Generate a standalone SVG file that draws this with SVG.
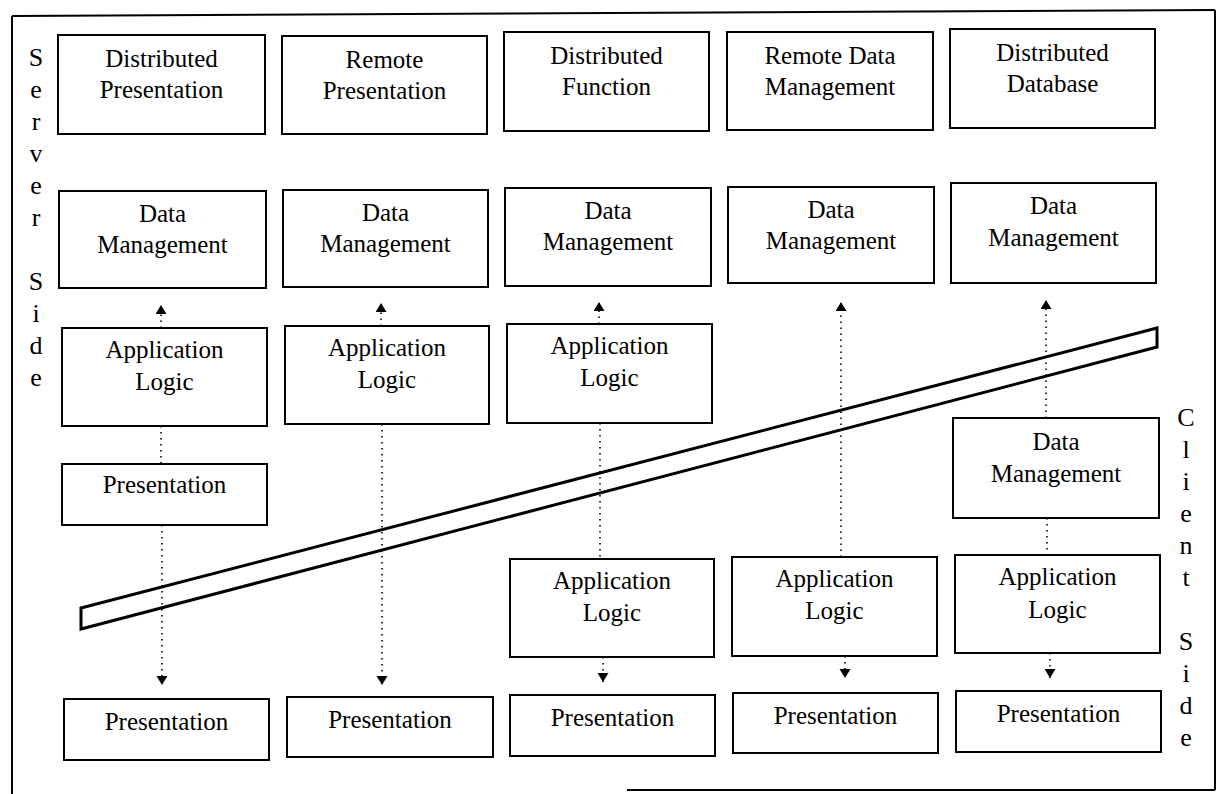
<svg xmlns="http://www.w3.org/2000/svg" width="1218" height="794" viewBox="0 0 1218 794">
<style>
  .box { fill: #fff; stroke: #000; stroke-width: 2; }
  .t { font-family: "Liberation Serif", "Times New Roman", serif; font-size: 25px; fill: #000; text-anchor: middle; }
  .side { font-family: "Liberation Serif", "Times New Roman", serif; font-size: 26px; fill: #000; text-anchor: middle; }
  .dot { fill: none; stroke: #000; stroke-width: 1.6; stroke-dasharray: 1.6 4.4; }
  .frame { fill: none; stroke: #000; stroke-width: 2; }
  .band { fill: none; stroke: #000; stroke-width: 3; stroke-linejoin: miter; }
</style>
<defs>
  <marker id="ah" markerUnits="userSpaceOnUse" markerWidth="10" markerHeight="12" refX="9" refY="5.5" orient="auto">
    <path d="M0,0 L9,5.5 L0,11 z" fill="#000"/>
  </marker>
</defs>
<rect width="1218" height="794" fill="#fff"/>

<g id="frame">
  <line class="frame" x1="12" y1="16" x2="12" y2="794"/>
  <line class="frame" x1="12" y1="16" x2="1215" y2="10"/>
  <line class="frame" x1="1215" y1="10" x2="1215" y2="790"/>
  <line class="frame" x1="627" y1="790" x2="1215" y2="790"/>
</g>

<g id="server-side-label">
  <text class="side" x="36" y="66">S</text>
  <text class="side" x="36" y="98">e</text>
  <text class="side" x="36" y="130">r</text>
  <text class="side" x="36" y="162">v</text>
  <text class="side" x="36" y="194">e</text>
  <text class="side" x="36" y="226">r</text>
  <text class="side" x="36" y="290">S</text>
  <text class="side" x="36" y="322">i</text>
  <text class="side" x="36" y="354">d</text>
  <text class="side" x="36" y="386">e</text>
</g>

<g id="client-side-label">
  <text class="side" x="1186" y="426">C</text>
  <text class="side" x="1186" y="458">l</text>
  <text class="side" x="1186" y="490">i</text>
  <text class="side" x="1186" y="522">e</text>
  <text class="side" x="1186" y="554">n</text>
  <text class="side" x="1186" y="586">t</text>
  <text class="side" x="1186" y="650">S</text>
  <text class="side" x="1186" y="682">i</text>
  <text class="side" x="1186" y="714">d</text>
  <text class="side" x="1186" y="746">e</text>
</g>

<g id="connectors">
  <line class="dot" x1="161" y1="328" x2="161" y2="305" marker-end="url(#ah)"/>
  <line class="dot" x1="161" y1="426" x2="161" y2="464"/>
  <line class="dot" x1="162" y1="525" x2="162" y2="685" marker-end="url(#ah)"/>
  <line class="dot" x1="381" y1="326" x2="381" y2="303" marker-end="url(#ah)"/>
  <line class="dot" x1="382" y1="424" x2="382" y2="685" marker-end="url(#ah)"/>
  <line class="dot" x1="599" y1="324" x2="599" y2="302" marker-end="url(#ah)"/>
  <line class="dot" x1="600" y1="423" x2="600" y2="559"/>
  <line class="dot" x1="603" y1="657" x2="603" y2="682" marker-end="url(#ah)"/>
  <line class="dot" x1="841" y1="557" x2="841" y2="302" marker-end="url(#ah)"/>
  <line class="dot" x1="845" y1="656" x2="845" y2="678" marker-end="url(#ah)"/>
  <line class="dot" x1="1046" y1="418" x2="1046" y2="300" marker-end="url(#ah)"/>
  <line class="dot" x1="1047" y1="518" x2="1047" y2="555"/>
  <line class="dot" x1="1050" y1="653" x2="1050" y2="678" marker-end="url(#ah)"/>
</g>

<g id="boundary-band">
  <polygon class="band" points="81,608 1157,328 1157,347 81,629"/>
</g>

<!-- Top row: architecture names -->
<g id="distributed-presentation">
  <rect class="box" x="58" y="35" width="207" height="99"/>
  <text class="t" x="161.5" y="67">Distributed</text>
  <text class="t" x="161.5" y="98">Presentation</text>
</g>
<g id="remote-presentation">
  <rect class="box" x="282" y="36" width="205" height="98"/>
  <text class="t" x="384.5" y="68">Remote</text>
  <text class="t" x="384.5" y="99">Presentation</text>
</g>
<g id="distributed-function">
  <rect class="box" x="504" y="32" width="205" height="99"/>
  <text class="t" x="606.5" y="64">Distributed</text>
  <text class="t" x="606.5" y="95">Function</text>
</g>
<g id="remote-data-management">
  <rect class="box" x="727" y="32" width="206" height="98"/>
  <text class="t" x="830" y="64">Remote Data</text>
  <text class="t" x="830" y="95">Management</text>
</g>
<g id="distributed-database">
  <rect class="box" x="950" y="29" width="205" height="99"/>
  <text class="t" x="1052.5" y="61">Distributed</text>
  <text class="t" x="1052.5" y="92">Database</text>
</g>

<!-- Server data management row -->
<g id="dm-1">
  <rect class="box" x="59" y="191" width="207" height="97"/>
  <text class="t" x="162.5" y="222">Data</text>
  <text class="t" x="162.5" y="253">Management</text>
</g>
<g id="dm-2">
  <rect class="box" x="283" y="190" width="205" height="97"/>
  <text class="t" x="385.5" y="221">Data</text>
  <text class="t" x="385.5" y="252">Management</text>
</g>
<g id="dm-3">
  <rect class="box" x="505" y="188" width="206" height="98"/>
  <text class="t" x="608" y="219">Data</text>
  <text class="t" x="608" y="250">Management</text>
</g>
<g id="dm-4">
  <rect class="box" x="728" y="187" width="206" height="96"/>
  <text class="t" x="831" y="218">Data</text>
  <text class="t" x="831" y="249">Management</text>
</g>
<g id="dm-5">
  <rect class="box" x="951" y="183" width="205" height="100"/>
  <text class="t" x="1053.5" y="214">Data</text>
  <text class="t" x="1053.5" y="246">Management</text>
</g>

<!-- Server application logic -->
<g id="al-1">
  <rect class="box" x="62" y="328" width="205" height="98"/>
  <text class="t" x="164.5" y="358">Application</text>
  <text class="t" x="164.5" y="390">Logic</text>
</g>
<g id="al-2">
  <rect class="box" x="285" y="326" width="204" height="98"/>
  <text class="t" x="387" y="356">Application</text>
  <text class="t" x="387" y="388">Logic</text>
</g>
<g id="al-3">
  <rect class="box" x="507" y="324" width="205" height="99"/>
  <text class="t" x="609.5" y="354">Application</text>
  <text class="t" x="609.5" y="386">Logic</text>
</g>

<g id="pres-server-1">
  <rect class="box" x="62" y="464" width="205" height="61"/>
  <text class="t" x="164.5" y="493">Presentation</text>
</g>

<!-- Client side -->
<g id="client-dm-5">
  <rect class="box" x="953" y="418" width="206" height="100"/>
  <text class="t" x="1056" y="450">Data</text>
  <text class="t" x="1056" y="482">Management</text>
</g>
<g id="client-al-3">
  <rect class="box" x="510" y="559" width="204" height="98"/>
  <text class="t" x="612" y="589">Application</text>
  <text class="t" x="612" y="621">Logic</text>
</g>
<g id="client-al-4">
  <rect class="box" x="732" y="557" width="205" height="99"/>
  <text class="t" x="834.5" y="587">Application</text>
  <text class="t" x="834.5" y="619">Logic</text>
</g>
<g id="client-al-5">
  <rect class="box" x="955" y="555" width="205" height="98"/>
  <text class="t" x="1057.5" y="585">Application</text>
  <text class="t" x="1057.5" y="618">Logic</text>
</g>

<g id="client-pres-1">
  <rect class="box" x="64" y="699" width="205" height="61"/>
  <text class="t" x="166.5" y="730">Presentation</text>
</g>
<g id="client-pres-2">
  <rect class="box" x="287" y="697" width="206" height="60"/>
  <text class="t" x="390" y="728">Presentation</text>
</g>
<g id="client-pres-3">
  <rect class="box" x="510" y="695" width="205" height="61"/>
  <text class="t" x="612.5" y="726">Presentation</text>
</g>
<g id="client-pres-4">
  <rect class="box" x="733" y="693" width="205" height="60"/>
  <text class="t" x="835.5" y="724">Presentation</text>
</g>
<g id="client-pres-5">
  <rect class="box" x="956" y="691" width="205" height="61"/>
  <text class="t" x="1058.5" y="722">Presentation</text>
</g>
</svg>
